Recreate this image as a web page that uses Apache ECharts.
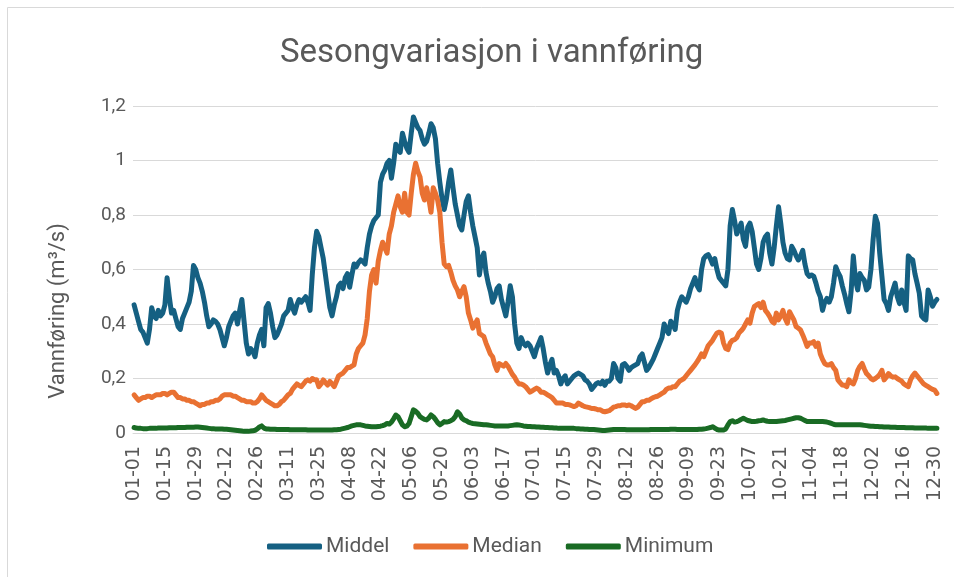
<!DOCTYPE html>
<html>
<head>
<meta charset="utf-8">
<title>Sesongvariasjon i vannføring</title>
<script src="https://cdn.jsdelivr.net/npm/echarts@6/dist/echarts.min.js"></script>
<style>
  html, body { margin: 0; padding: 0; background: #fff; }
  #chart { width: 954px; height: 577px; }
</style>
</head>
<body>
<div id="chart"></div>
<script>
// dager i et skuddår, brukes til kategorietikettene MM-DD
const monthDays = [31, 29, 31, 30, 31, 30, 31, 31, 30, 31, 30, 31];

// Middel (m3/s), én verdi per dag fra 01-01
const middel = [
  0.47,0.44,0.41,0.38,0.37,0.35,0.33,0.38,0.46,0.43,
  0.42,0.45,0.43,0.44,0.47,0.57,0.50,0.44,0.45,0.42,
  0.39,0.38,0.42,0.44,0.46,0.48,0.52,0.615,0.60,0.57,
  0.55,0.52,0.48,0.43,0.39,0.40,0.415,0.41,0.40,0.38,
  0.35,0.32,0.35,0.39,0.41,0.43,0.44,0.40,0.45,0.49,
  0.41,0.33,0.29,0.31,0.30,0.28,0.33,0.36,0.38,0.32,
  0.46,0.475,0.44,0.39,0.35,0.36,0.38,0.40,0.43,0.44,
  0.45,0.49,0.46,0.44,0.47,0.49,0.48,0.49,0.50,0.48,
  0.45,0.58,0.68,0.74,0.72,0.68,0.64,0.58,0.52,0.46,
  0.43,0.47,0.50,0.54,0.55,0.53,0.57,0.585,0.535,0.58,
  0.62,0.61,0.625,0.635,0.63,0.62,0.68,0.73,0.76,0.78,
  0.79,0.80,0.92,0.95,0.965,0.99,1.0,0.935,0.99,1.06,
  1.04,1.03,1.10,1.07,1.045,1.03,1.10,1.16,1.14,1.12,
  1.11,1.08,1.06,1.07,1.10,1.135,1.12,1.08,0.99,0.92,
  0.86,0.82,0.86,0.92,0.965,0.90,0.84,0.80,0.76,0.745,
  0.80,0.85,0.87,0.81,0.76,0.72,0.68,0.58,0.64,0.66,
  0.59,0.55,0.52,0.48,0.50,0.53,0.54,0.49,0.46,0.43,
  0.48,0.54,0.50,0.40,0.33,0.31,0.35,0.33,0.32,0.33,
  0.32,0.30,0.28,0.31,0.33,0.35,0.31,0.26,0.22,0.25,
  0.27,0.22,0.23,0.21,0.18,0.20,0.21,0.18,0.19,0.20,
  0.21,0.215,0.22,0.215,0.21,0.195,0.19,0.18,0.16,0.17,
  0.18,0.185,0.18,0.19,0.175,0.19,0.19,0.20,0.255,0.24,
  0.20,0.19,0.25,0.255,0.245,0.23,0.24,0.245,0.25,0.255,
  0.28,0.29,0.26,0.23,0.24,0.255,0.27,0.29,0.31,0.33,
  0.35,0.40,0.38,0.365,0.41,0.40,0.38,0.45,0.48,0.50,
  0.49,0.48,0.50,0.53,0.55,0.57,0.54,0.525,0.60,0.64,
  0.65,0.655,0.64,0.62,0.64,0.60,0.57,0.56,0.55,0.54,
  0.60,0.76,0.82,0.78,0.73,0.75,0.77,0.71,0.685,0.755,
  0.77,0.74,0.68,0.62,0.60,0.64,0.70,0.72,0.73,0.66,
  0.62,0.68,0.76,0.83,0.77,0.70,0.66,0.64,0.635,0.685,
  0.67,0.65,0.635,0.65,0.67,0.62,0.585,0.575,0.58,0.575,
  0.55,0.52,0.50,0.45,0.48,0.494,0.48,0.50,0.55,0.61,
  0.59,0.575,0.54,0.51,0.475,0.445,0.52,0.65,0.56,0.525,
  0.585,0.57,0.56,0.525,0.535,0.60,0.71,0.795,0.77,0.66,
  0.575,0.49,0.475,0.45,0.50,0.525,0.55,0.50,0.475,0.525,
  0.48,0.45,0.65,0.64,0.635,0.585,0.55,0.513,0.43,0.42,
  0.415,0.525,0.50,0.465,0.48,0.49
];

// Median
const median = [
  0.14,0.13,0.12,0.125,0.13,0.13,0.135,0.135,0.13,0.135,
  0.14,0.14,0.14,0.145,0.145,0.14,0.145,0.15,0.15,0.14,
  0.13,0.13,0.125,0.125,0.12,0.12,0.115,0.115,0.11,0.105,
  0.10,0.105,0.105,0.11,0.11,0.115,0.115,0.12,0.12,0.125,
  0.135,0.14,0.14,0.14,0.14,0.135,0.135,0.13,0.125,0.12,
  0.12,0.115,0.115,0.115,0.11,0.11,0.115,0.125,0.14,0.13,
  0.12,0.115,0.11,0.105,0.10,0.10,0.105,0.115,0.12,0.13,
  0.14,0.145,0.16,0.17,0.18,0.175,0.17,0.18,0.19,0.195,
  0.19,0.20,0.195,0.195,0.17,0.18,0.195,0.185,0.176,0.189,
  0.18,0.17,0.19,0.21,0.215,0.22,0.23,0.24,0.24,0.245,
  0.25,0.29,0.31,0.32,0.33,0.36,0.42,0.52,0.58,0.60,
  0.55,0.63,0.67,0.70,0.68,0.66,0.73,0.76,0.81,0.84,
  0.87,0.83,0.81,0.88,0.81,0.80,0.88,0.95,0.99,0.96,
  0.94,0.88,0.855,0.90,0.86,0.81,0.90,0.88,0.855,0.81,
  0.70,0.62,0.61,0.615,0.59,0.56,0.54,0.525,0.50,0.52,
  0.537,0.50,0.44,0.415,0.385,0.40,0.415,0.365,0.36,0.354,
  0.33,0.31,0.29,0.28,0.25,0.23,0.255,0.25,0.245,0.255,
  0.245,0.23,0.215,0.205,0.19,0.18,0.18,0.176,0.17,0.16,
  0.15,0.155,0.16,0.165,0.16,0.15,0.15,0.145,0.14,0.135,
  0.13,0.12,0.11,0.11,0.11,0.11,0.105,0.105,0.103,0.10,
  0.097,0.10,0.11,0.105,0.10,0.097,0.095,0.093,0.09,0.09,
  0.088,0.085,0.085,0.08,0.078,0.08,0.082,0.088,0.095,0.097,
  0.10,0.10,0.103,0.103,0.10,0.103,0.10,0.095,0.09,0.095,
  0.105,0.115,0.115,0.12,0.12,0.125,0.13,0.133,0.135,0.14,
  0.145,0.15,0.16,0.165,0.165,0.17,0.17,0.18,0.19,0.195,
  0.20,0.21,0.22,0.23,0.24,0.25,0.262,0.275,0.29,0.28,
  0.30,0.32,0.33,0.34,0.354,0.367,0.37,0.367,0.33,0.31,
  0.306,0.33,0.34,0.343,0.35,0.367,0.375,0.385,0.40,0.415,
  0.403,0.44,0.464,0.47,0.475,0.46,0.48,0.45,0.44,0.427,
  0.41,0.403,0.44,0.415,0.43,0.45,0.42,0.403,0.445,0.43,
  0.415,0.39,0.385,0.378,0.36,0.34,0.318,0.33,0.33,0.335,
  0.318,0.33,0.29,0.27,0.255,0.25,0.25,0.255,0.24,0.23,
  0.195,0.185,0.176,0.175,0.17,0.195,0.185,0.18,0.20,0.23,
  0.245,0.255,0.235,0.218,0.21,0.20,0.195,0.20,0.206,0.215,
  0.23,0.195,0.205,0.218,0.21,0.205,0.206,0.20,0.195,0.19,
  0.18,0.175,0.17,0.195,0.21,0.22,0.21,0.20,0.19,0.18,
  0.175,0.17,0.165,0.16,0.157,0.145
];

// Minimum
const minimum = [
  0.02,0.018,0.017,0.017,0.016,0.016,0.016,0.017,0.017,0.017,
  0.017,0.018,0.018,0.018,0.018,0.018,0.019,0.019,0.019,0.019,
  0.02,0.02,0.02,0.02,0.021,0.021,0.021,0.021,0.022,0.022,
  0.021,0.02,0.019,0.018,0.017,0.016,0.016,0.015,0.015,0.015,
  0.015,0.014,0.014,0.013,0.012,0.011,0.01,0.009,0.008,0.007,
  0.006,0.006,0.006,0.007,0.008,0.01,0.015,0.022,0.026,0.018,
  0.015,0.015,0.014,0.014,0.014,0.013,0.013,0.013,0.013,0.013,
  0.013,0.012,0.012,0.012,0.012,0.012,0.012,0.012,0.012,0.011,
  0.011,0.011,0.011,0.011,0.011,0.011,0.011,0.011,0.011,0.011,
  0.011,0.012,0.012,0.013,0.014,0.016,0.018,0.02,0.023,0.026,
  0.028,0.03,0.03,0.03,0.028,0.026,0.025,0.024,0.023,0.023,
  0.023,0.024,0.025,0.027,0.03,0.035,0.033,0.04,0.052,0.066,
  0.06,0.045,0.03,0.023,0.025,0.035,0.06,0.085,0.08,0.072,
  0.06,0.055,0.05,0.048,0.055,0.066,0.06,0.05,0.038,0.03,
  0.035,0.042,0.04,0.042,0.045,0.05,0.06,0.078,0.07,0.055,
  0.048,0.045,0.04,0.037,0.035,0.034,0.033,0.032,0.031,0.03,
  0.03,0.029,0.028,0.027,0.026,0.026,0.026,0.026,0.026,0.026,
  0.026,0.027,0.028,0.029,0.03,0.029,0.028,0.026,0.025,0.024,
  0.024,0.023,0.023,0.022,0.022,0.021,0.021,0.02,0.02,0.019,
  0.019,0.018,0.018,0.017,0.017,0.017,0.017,0.017,0.017,0.017,
  0.017,0.016,0.016,0.015,0.015,0.014,0.014,0.013,0.013,0.013,
  0.012,0.011,0.01,0.009,0.009,0.01,0.011,0.012,0.013,0.013,
  0.013,0.013,0.013,0.013,0.012,0.012,0.012,0.012,0.012,0.012,
  0.012,0.012,0.012,0.012,0.012,0.013,0.013,0.013,0.013,0.013,
  0.013,0.013,0.013,0.013,0.014,0.014,0.014,0.013,0.013,0.013,
  0.013,0.013,0.013,0.013,0.013,0.013,0.013,0.014,0.014,0.015,
  0.016,0.018,0.02,0.023,0.018,0.013,0.011,0.011,0.011,0.015,
  0.03,0.042,0.045,0.04,0.042,0.045,0.05,0.054,0.05,0.046,
  0.044,0.042,0.042,0.043,0.045,0.046,0.048,0.045,0.043,0.042,
  0.042,0.042,0.042,0.043,0.044,0.045,0.046,0.048,0.05,0.052,
  0.054,0.056,0.056,0.054,0.05,0.046,0.042,0.042,0.042,0.042,
  0.042,0.042,0.042,0.042,0.041,0.04,0.038,0.035,0.032,0.03,
  0.03,0.03,0.03,0.03,0.03,0.03,0.03,0.03,0.03,0.03,
  0.03,0.029,0.028,0.027,0.026,0.025,0.025,0.024,0.024,0.023,
  0.023,0.022,0.022,0.022,0.021,0.021,0.021,0.02,0.02,0.02,
  0.02,0.019,0.019,0.019,0.019,0.018,0.018,0.018,0.018,0.018,
  0.018,0.017,0.017,0.017,0.017,0.017
];

// kategorier 01-01 ... 12-31
const days = [];
monthDays.forEach((n, m) => {
  for (let d = 1; d <= n; d++) {
    days.push(String(m + 1).padStart(2, '0') + '-' + String(d).padStart(2, '0'));
  }
});

const textColor = '#595959';
const font = 'Roboto, sans-serif';

const chart = echarts.init(document.getElementById('chart'));
chart.setOption({
  animation: false,
  color: ['#156082', '#E97132', '#196B24'],
  title: {
    text: 'Sesongvariasjon i vannføring',
    left: 275,
    top: 32,
    textStyle: { fontFamily: font, fontSize: 33, fontWeight: 'normal', color: textColor }
  },
  graphic: [
    {
      type: 'rect',
      shape: { x: 7.5, y: 7.5, width: 960, height: 600 },
      style: { fill: 'none', stroke: '#d9d9d9', lineWidth: 1 },
      silent: true
    },
    {
      // y-aksetittel, litt under midten av plottet som i originalen
      type: 'text',
      x: 58,
      y: 311,
      rotation: Math.PI / 2,
      style: {
        text: 'Vannføring (m³/s)',
        fontFamily: font,
        fontSize: 22,
        fill: textColor,
        align: 'center',
        verticalAlign: 'middle'
      },
      silent: true
    }
  ],
  legend: {
    bottom: 15,
    left: 262,
    icon: 'roundRect',
    itemWidth: 55,
    itemHeight: 6,
    itemGap: 24,
    textStyle: { fontFamily: font, fontSize: 21, color: textColor, padding: [0, 0, 0, -1] },
    data: ['Middel', 'Median', 'Minimum']
  },
  grid: { left: 133, right: 16, top: 106, bottom: 144 },
  xAxis: {
    type: 'category',
    data: days,
    boundaryGap: true,
    axisTick: { show: false },
    axisLine: { lineStyle: { color: '#d9d9d9', width: 1 } },
    axisLabel: {
      interval: 13,
      rotate: 90,
      margin: 13,
      fontFamily: 'DejaVu Sans',
      fontSize: 19,
      color: textColor
    }
  },
  yAxis: {
    type: 'value',
    min: 0,
    max: 1.2,
    interval: 0.2,
    axisLine: { show: false },
    axisTick: { show: false },
    splitLine: { lineStyle: { color: '#d9d9d9', width: 1 } },
    axisLabel: {
      fontFamily: font,
      fontSize: 19,
      color: textColor,
      margin: 7,
      formatter: v => String(Math.round(v * 10) / 10).replace('.', ',')
    }
  },
  series: [
    { name: 'Middel', type: 'line', data: middel, showSymbol: false, lineStyle: { width: 5, join: 'round', cap: 'round' } },
    { name: 'Median', type: 'line', data: median, showSymbol: false, lineStyle: { width: 5, join: 'round', cap: 'round' } },
    { name: 'Minimum', type: 'line', data: minimum, showSymbol: false, lineStyle: { width: 5, join: 'round', cap: 'round' } }
  ]
});
</script>
</body>
</html>
